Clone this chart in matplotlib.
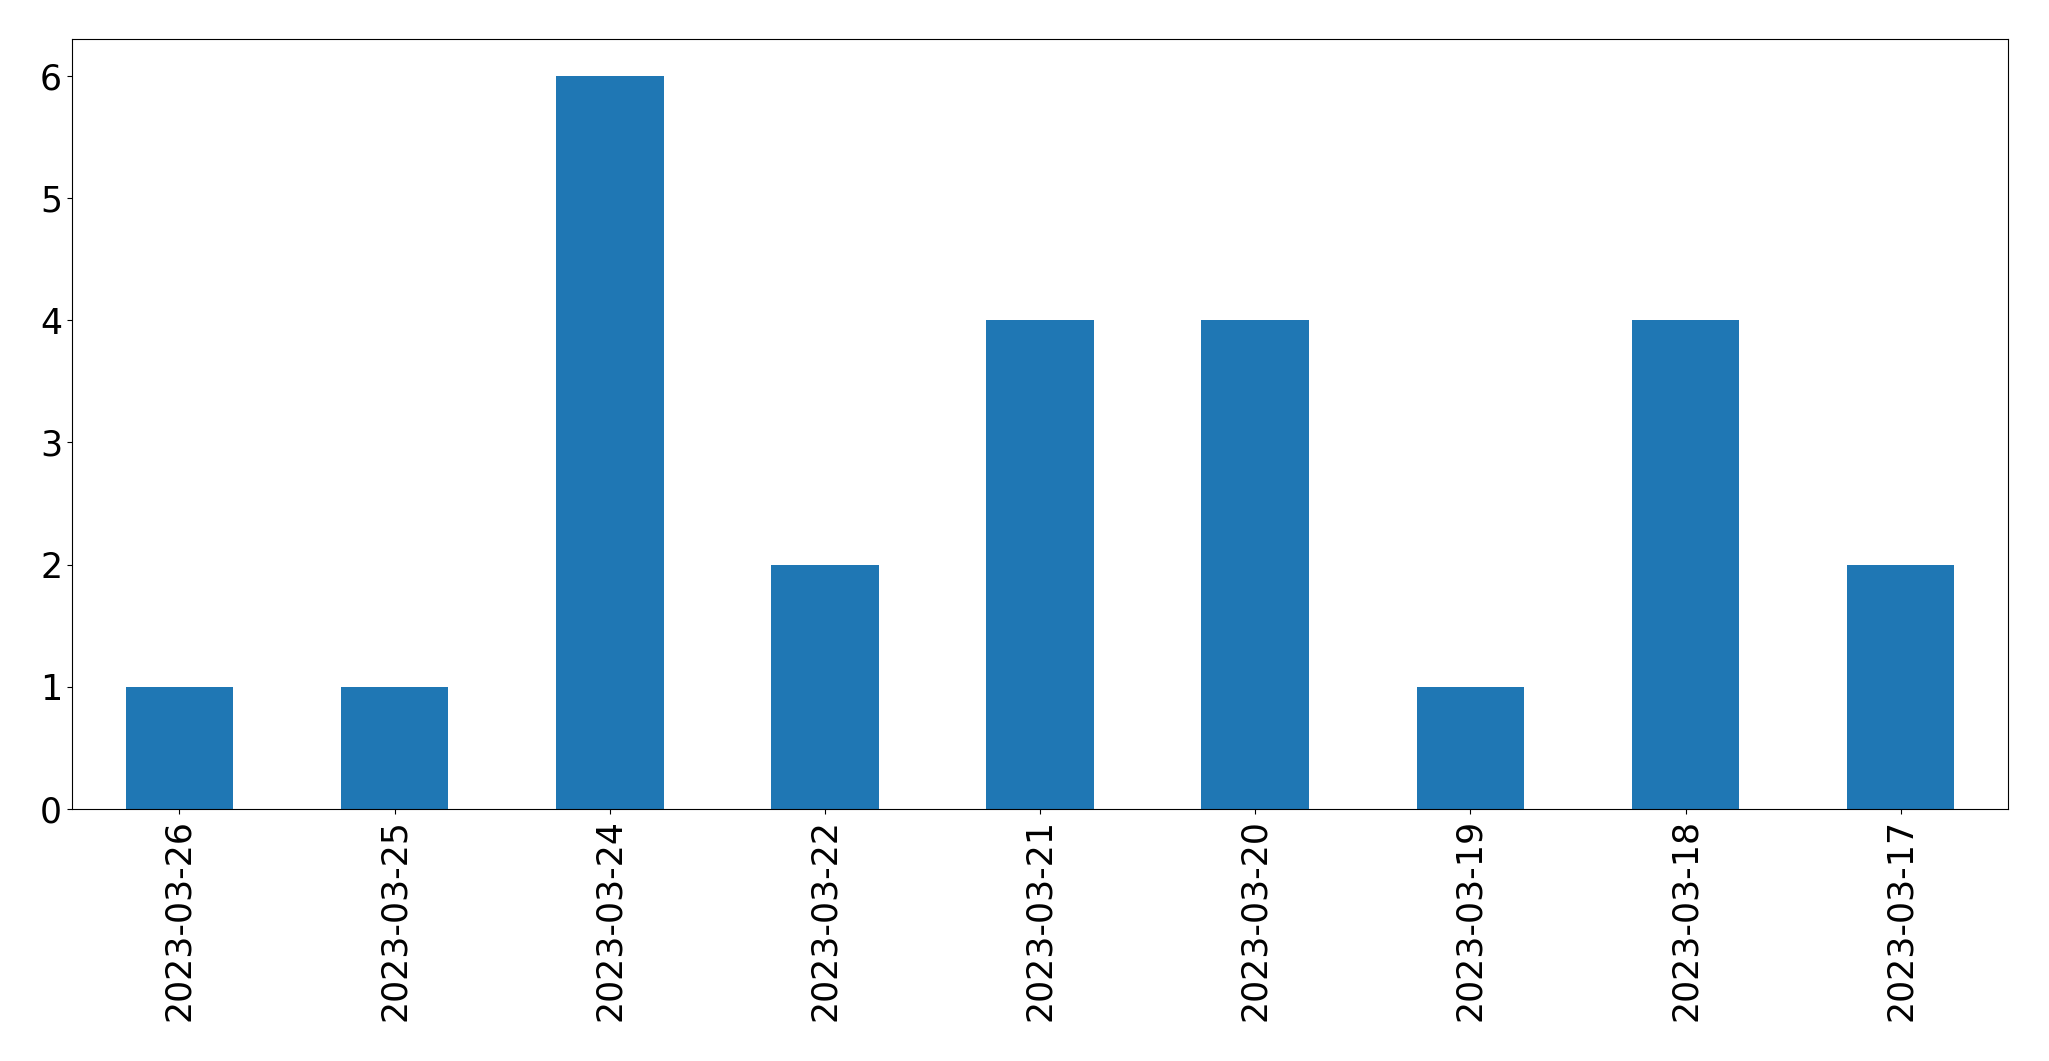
import pandas as pd
import matplotlib
matplotlib.use("Agg")
import matplotlib.pyplot as plt

dates = ["2023-03-26", "2023-03-25", "2023-03-24", "2023-03-22", "2023-03-21",
         "2023-03-20", "2023-03-19", "2023-03-18", "2023-03-17"]
counts = [1, 1, 6, 2, 4, 4, 1, 4, 2]

s = pd.Series(counts, index=dates)

fig = plt.figure(figsize=(20.49, 10.61), dpi=100)
ax = fig.add_axes([0.0351, 0.2375, 0.945, 0.7257])
s.plot(kind="bar", ax=ax, color="#1f77b4")
ax.tick_params(axis="both", labelsize=25)
fig.savefig("out.png", dpi=100)
